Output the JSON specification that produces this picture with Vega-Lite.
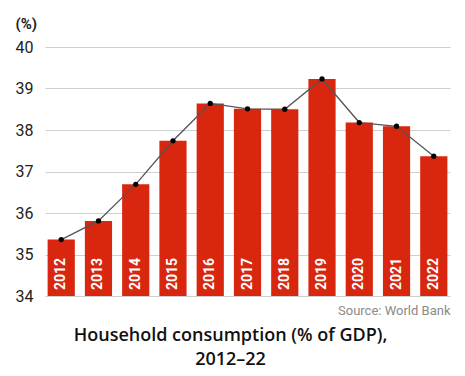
{
  "$schema": "https://vega.github.io/schema/vega-lite/v6.json",
  "autosize": {"type": "none"},
  "width": 405,
  "height": 249,
  "padding": {"left": 45, "top": 47, "right": 15, "bottom": 80},
  "background": "white",
  "config": {"view": {"stroke": null}, "font": "Roboto"},
  "title": {
    "text": ["Household consumption (% of GDP),", "2012–22"],
    "orient": "bottom",
    "anchor": "middle",
    "font": "Open Sans",
    "fontSize": 18,
    "fontWeight": 600,
    "color": "#111111",
    "lineHeight": 24,
    "offset": 10,
    "dx": -17
  },
  "data": {"values": [
    {"year": "2012", "value": 35.36},
    {"year": "2013", "value": 35.81},
    {"year": "2014", "value": 36.69},
    {"year": "2015", "value": 37.74},
    {"year": "2016", "value": 38.64},
    {"year": "2017", "value": 38.51},
    {"year": "2018", "value": 38.50},
    {"year": "2019", "value": 39.23},
    {"year": "2020", "value": 38.18},
    {"year": "2021", "value": 38.09},
    {"year": "2022", "value": 37.37}
  ]},
  "encoding": {
    "x": {
      "field": "year", "type": "ordinal",
      "scale": {"paddingInner": 0.27, "paddingOuter": 0.07},
      "axis": {
        "labels": false, "ticks": false, "domain": false,
        "title": "Source: World Bank",
        "titleAnchor": "end", "titleAlign": "right",
        "titleFontSize": 13, "titleFontWeight": "normal", "titleColor": "#8a8a8a",
        "titlePadding": 8
      }
    }
  },
  "layer": [
    {
      "mark": {"type": "bar", "color": "#d8260f"},
      "encoding": {
        "y": {
          "field": "value", "type": "quantitative",
          "scale": {"domain": [34, 40], "nice": false, "zero": false},
          "axis": {
            "values": [34, 35, 36, 37, 38, 39, 40],
            "labelOverlap": false,
            "ticks": false, "domain": false,
            "gridColor": "#cfcfcf", "gridWidth": 1.2,
            "labelFontSize": 16, "labelColor": "#222222", "labelPadding": 12,
            "title": "(%)", "titleAngle": 0, "titleAlign": "left", "titleBaseline": "middle",
            "titleX": -30, "titleY": -24, "titleFontSize": 15, "titleFontWeight": "bold", "titleColor": "#222222"
          }
        },
        "y2": {"datum": 34}
      }
    },
    {
      "mark": {"type": "text", "angle": 270, "align": "left", "baseline": "middle", "dx": 6, "color": "white", "fontWeight": "bold", "fontSize": 14},
      "encoding": {
        "y": {"datum": 34, "type": "quantitative"},
        "text": {"field": "year"}
      }
    },
    {
      "mark": {"type": "line", "color": "#555555", "strokeWidth": 1.3},
      "encoding": {"y": {"field": "value", "type": "quantitative"}}
    },
    {
      "mark": {"type": "point", "filled": true, "color": "#000000", "size": 28, "opacity": 1},
      "encoding": {"y": {"field": "value", "type": "quantitative"}}
    }
  ]
}
